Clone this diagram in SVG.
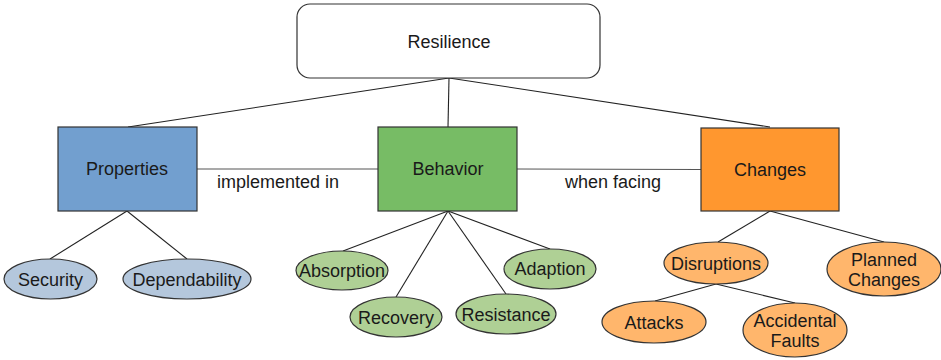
<svg xmlns="http://www.w3.org/2000/svg" width="941" height="360" viewBox="0 0 941 360">
<style>
text{font-family:"Liberation Sans",Arial,sans-serif;font-size:18px;fill:#1a1a1a;text-anchor:middle;dominant-baseline:central}
.box{stroke:#333;stroke-width:1.2}
.ell{stroke:#333;stroke-width:1.2}
.con line{stroke:#222;stroke-width:1.1}
</style>
<rect width="941" height="360" fill="#fff"/>
<g class="con">
<line x1="449" y1="78" x2="128" y2="127"/>
<line x1="449" y1="78" x2="448" y2="127"/>
<line x1="449" y1="78" x2="770" y2="127"/>
<line x1="197" y1="169" x2="378" y2="169" style="stroke:#555"/>
<line x1="517" y1="169" x2="701" y2="169.5" style="stroke:#555"/>
<line x1="127" y1="211" x2="50" y2="259"/>
<line x1="127" y1="211" x2="187" y2="259"/>
<line x1="448" y1="211" x2="343" y2="251"/>
<line x1="448" y1="211" x2="396" y2="297"/>
<line x1="448" y1="211" x2="506" y2="294"/>
<line x1="448" y1="211" x2="550" y2="249"/>
<line x1="770" y1="211" x2="718" y2="242"/>
<line x1="770" y1="211" x2="884" y2="242"/>
<line x1="716" y1="284" x2="655" y2="301"/>
<line x1="716" y1="284" x2="795" y2="303"/>
<text x="278" y="182">implemented in</text>
<text x="613" y="182">when facing</text>
</g>
<g id="resilience"><rect class="box" x="297" y="4" width="303" height="74" rx="13" fill="#fff"/><text x="449" y="42">Resilience</text></g>
<g id="properties"><rect class="box" x="58" y="127" width="139" height="84" fill="#729fcf"/><text x="127" y="169">Properties</text></g>
<g id="behavior"><rect class="box" x="378" y="127" width="139" height="84" fill="#77bc65"/><text x="448" y="169">Behavior</text></g>
<g id="changes"><rect class="box" x="701" y="128" width="138" height="83" fill="#ff972f"/><text x="770" y="170">Changes</text></g>
<g id="security"><ellipse class="ell" cx="50.5" cy="279" rx="46.5" ry="20" fill="#b4c7dc"/><text x="50.5" y="280">Security</text></g>
<g id="dependability"><ellipse class="ell" cx="187" cy="279" rx="64" ry="20" fill="#b4c7dc"/><text x="187" y="280">Dependability</text></g>
<g id="absorption"><ellipse class="ell" cx="342" cy="270.5" rx="46" ry="19.5" fill="#afd095"/><text x="342" y="271">Absorption</text></g>
<g id="recovery"><ellipse class="ell" cx="396" cy="317" rx="46" ry="20" fill="#afd095"/><text x="396" y="318">Recovery</text></g>
<g id="resistance"><ellipse class="ell" cx="506" cy="314" rx="50" ry="20" fill="#afd095"/><text x="506" y="315">Resistance</text></g>
<g id="adaption"><ellipse class="ell" cx="550" cy="269" rx="46" ry="20" fill="#afd095"/><text x="550" y="269">Adaption</text></g>
<g id="disruptions"><ellipse class="ell" cx="716" cy="263" rx="52" ry="21" fill="#ffb66c"/><text x="716" y="264">Disruptions</text></g>
<g id="planned"><ellipse class="ell" cx="884" cy="269" rx="57" ry="27" fill="#ffb66c"/><text x="884" y="260">Planned</text><text x="884" y="280">Changes</text></g>
<g id="attacks"><ellipse class="ell" cx="654" cy="322" rx="52" ry="21" fill="#ffb66c"/><text x="654" y="323">Attacks</text></g>
<g id="accidental"><ellipse class="ell" cx="795" cy="330" rx="52" ry="27" fill="#ffb66c"/><text x="795" y="321">Accidental</text><text x="795" y="341">Faults</text></g>
</svg>
